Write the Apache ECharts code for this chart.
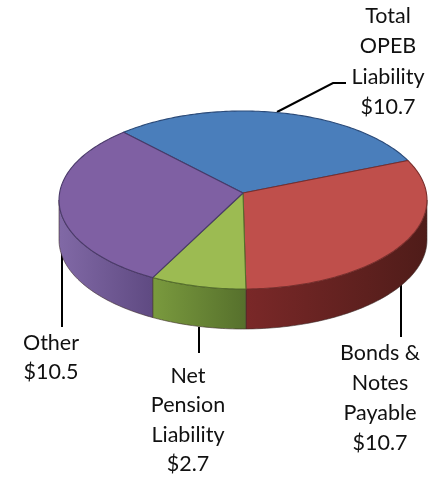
<!DOCTYPE html>
<html>
<head>
<meta charset="utf-8">
<script src="https://cdn.jsdelivr.net/npm/echarts@6/dist/echarts.min.js"></script>
<style>html,body{margin:0;padding:0;background:#fff}#c{width:438px;height:478px}</style>
</head>
<body>
<div id="c"></div>
<script>
var categories = ['Total OPEB Liability', 'Bonds & Notes Payable', 'Net Pension Liability', 'Other'];
var values = [10.7, 10.7, 2.7, 10.5];
var labelLines = [
  ['Total', 'OPEB', 'Liability', '$10.7'],
  ['Bonds &', 'Notes', 'Payable', '$10.7'],
  ['Net', 'Pension', 'Liability', '$2.7'],
  ['Other', '$10.5']
];
var topColors = ['#4a7ebb', '#bf4f4b', '#9cbb52', '#7f60a3'];
var edgeColors = ['#2b4a78', '#7a2e2c', '#55702c', '#4a3a6a'];
var wallColors = [
  ['#3a6596', '#2c4d75'],
  ['#7a2828', '#4f1c19'],
  ['#7a9a3e', '#56702c'],
  ['#8169a6', '#5f4a82']
];

var CX = 243, CY = 193, A = 183.4, B = 88.45, K = -0.0787, DEPTH = 40, START = 226.5;
var SIL_A = 4.5, SIL_B = 175.5;
var total = values.reduce(function (a, b) { return a + b; }, 0);

function project(deg, drop) {
  var t = deg * Math.PI / 180, u = Math.cos(t), v = Math.sin(t), w = 1 + K * v;
  return [CX + A * u / w, CY + B * v / w + (drop || 0)];
}
function span(i) {
  var s = START;
  for (var j = 0; j < i; j++) s += values[j] / total * 360;
  return [s, s + values[i] / total * 360];
}
function arc(a, b, drop) {
  var pts = [], n = Math.max(2, Math.ceil(Math.abs(b - a)));
  for (var i = 0; i <= n; i++) pts.push(project(a + (b - a) * i / n, drop));
  return pts;
}
function renderWall(params, api) {
  var i = params.dataIndex, s = span(i), children = [];
  [0, 360].forEach(function (off) {
    var a = Math.max(s[0] - off, SIL_A), b = Math.min(s[1] - off, SIL_B);
    if (b <= a) return;
    var pts = arc(a, b, 0).concat(arc(b, a, DEPTH));
    var c = wallColors[i];
    children.push({
      type: 'polygon', shape: { points: pts },
      style: {
        fill: new echarts.graphic.LinearGradient(0, 0, 1, 0, [
          { offset: 0, color: c[0] }, { offset: 1, color: c[1] }
        ]),
        stroke: '#3c2b2a', lineWidth: 0.6
      }
    });
  });
  return { type: 'group', children: children };
}
function renderTop(params, api) {
  var i = params.dataIndex, s = span(i);
  var pts = [[CX, CY]].concat(arc(s[0], s[1], 0));
  return {
    type: 'polygon', shape: { points: pts },
    style: { fill: topColors[i], stroke: edgeColors[i], lineWidth: 1.1, lineJoin: 'round' }
  };
}

var FONT = 'Lato, "Open Sans", sans-serif';
function textBlock(lines, cx, firstY, gap) {
  return lines.map(function (line, i) {
    return {
      type: 'text', x: cx, y: firstY + i * gap, silent: true,
      style: { text: line, fill: '#111', font: '21.5px ' + FONT, align: 'center', verticalAlign: 'middle' }
    };
  });
}
function leader(points) {
  return {
    type: 'polyline', silent: true, shape: { points: points },
    style: { stroke: '#000', lineWidth: 2, fill: null }
  };
}

var graphics = []
  .concat(textBlock(labelLines[0], 388, 16, 30.5))
  .concat(textBlock(labelLines[1], 380, 353, 30))
  .concat(textBlock(labelLines[2], 188, 376, 29.5))
  .concat(textBlock(labelLines[3], 51, 343, 29.5))
  .concat([
    leader([[277, 112], [333, 83], [346, 83]]),
    leader([[62, 243], [62, 327]]),
    leader([[199, 327], [199, 353]]),
    leader([[401, 282], [401, 337]])
  ]);

var chart = echarts.init(document.getElementById('c'), null, { renderer: 'canvas' });
chart.setOption({
  animation: false,
  backgroundColor: '#fff',
  tooltip: { show: false },
  series: [
    { type: 'custom', coordinateSystem: 'none', silent: true, z: 2, renderItem: renderWall,
      data: values.map(function (v, i) { return { name: categories[i], value: v }; }) },
    { type: 'custom', coordinateSystem: 'none', silent: true, z: 3, renderItem: renderTop,
      data: values.map(function (v, i) { return { name: categories[i], value: v }; }) }
  ],
  graphic: { elements: graphics }
});
</script>
</body>
</html>
